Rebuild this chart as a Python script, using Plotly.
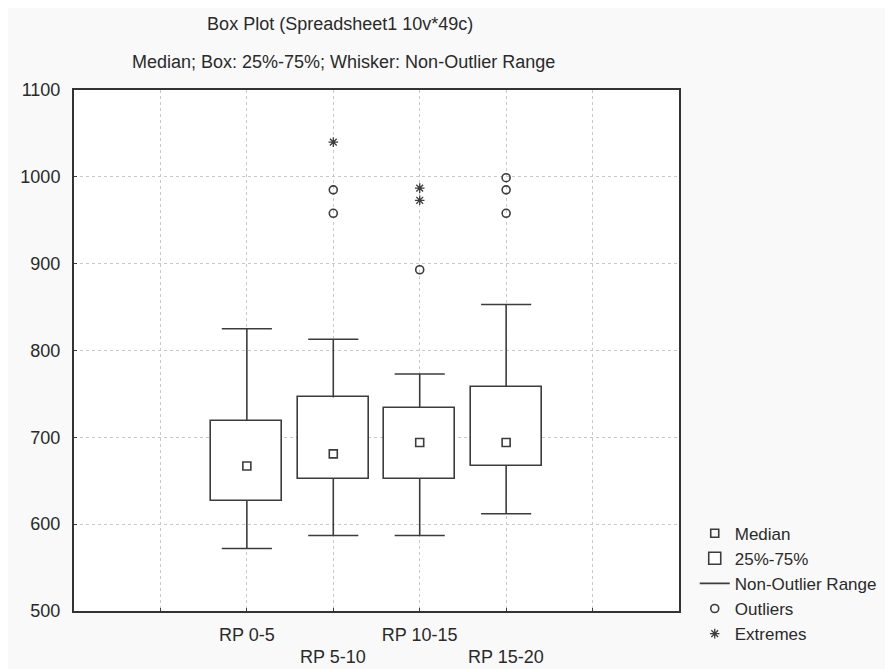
import plotly.graph_objects as go

# ---- data ----
categories = ["RP 0-5", "RP 5-10", "RP 10-15", "RP 15-20"]
medians = [667, 681, 694, 694]
q1 = [627, 652, 652, 667]
q3 = [719, 746, 734, 758]
whisk_lo = [572, 587, 587, 612]
whisk_hi = [825, 813, 773, 853]
outlier_cat = ["RP 5-10", "RP 5-10", "RP 10-15", "RP 15-20", "RP 15-20", "RP 15-20"]
outlier_val = [985, 958, 893, 999, 985, 958]
extreme_cat = ["RP 5-10", "RP 10-15", "RP 10-15"]
extreme_val = [1040, 987, 973]
y_ticks = [500, 600, 700, 800, 900, 1000, 1100]
title_text = "Box Plot (Spreadsheet1 10v*49c)"
subtitle_text = "Median; Box: 25%-75%; Whisker: Non-Outlier Range"

# ---- layout helpers ----
pos = {c: i + 2 for i, c in enumerate(categories)}   # slots 1..6 on a 0..7 axis, data in 2..5
xs = [pos[c] for c in categories]
LINE = "#3c3c3c"
TXT = "#2a2a2a"
FONT = "Liberation Sans, Arial, sans-serif"
FS = 18
BOXW = 0.82
CAP = 0.29

fig = go.Figure()

# whiskers (vertical stems outside the box + caps)
wx, wy = [], []
for x, lo, hi, a, b in zip(xs, whisk_lo, whisk_hi, q1, q3):
    wx += [x, x, None, x, x, None, x - CAP, x + CAP, None, x - CAP, x + CAP, None]
    wy += [hi, b, None, a, lo, None, hi, hi, None, lo, lo, None]
fig.add_trace(go.Scatter(x=wx, y=wy, mode="lines", line=dict(color=LINE, width=1.6),
                         name="Non-Outlier Range", legendrank=3))

# boxes 25%-75%
fig.add_trace(go.Bar(x=xs, y=[b - a for a, b in zip(q1, q3)], base=q1, width=BOXW,
                     marker=dict(color="white", line=dict(color=LINE, width=1.6)),
                     name="25%-75%", legendrank=2))

# medians
fig.add_trace(go.Scatter(x=xs, y=medians, mode="markers",
                         marker=dict(symbol="square-open", size=8, color=LINE, line=dict(width=1.6)),
                         name="Median", legendrank=1))

# outliers
fig.add_trace(go.Scatter(x=[pos[c] for c in outlier_cat], y=outlier_val, mode="markers",
                         marker=dict(symbol="circle-open", size=8, color=LINE, line=dict(width=1.6)),
                         name="Outliers", legendrank=4))

# extremes
fig.add_trace(go.Scatter(x=[pos[c] for c in extreme_cat], y=extreme_val, mode="markers",
                         marker=dict(symbol="asterisk-open", size=8, color=LINE, line=dict(width=1.3)),
                         name="Extremes", legendrank=5))

upper = [c if i % 2 == 0 else "" for i, c in enumerate(categories)]
lower = [c for i, c in enumerate(categories) if i % 2 == 1]
lower_x = [pos[c] for c in lower]

fig.update_layout(
    width=893, height=669,
    paper_bgcolor="#f9f9f9", plot_bgcolor="white",
    font=dict(family=FONT, size=FS, color=TXT),
    margin=dict(l=60, r=222, t=82, b=66),
    showlegend=True,
    legend=dict(x=1.026, y=0.183, xanchor="left", yanchor="top", bgcolor="rgba(0,0,0,0)",
                font=dict(size=17, color=TXT), tracegroupgap=0, itemwidth=30,
                traceorder="normal"),
    title=dict(text=title_text, x=0.372, xanchor="center", y=0.976, yanchor="middle",
               font=dict(family=FONT, size=FS, color=TXT)),
    xaxis=dict(range=[0, 7], tickvals=[1] + xs + [6], ticktext=[""] + upper + [""],
               showgrid=True, gridcolor="#c8c8c8", griddash="dot", gridwidth=1,
               ticks="inside", ticklen=3, tickcolor=LINE, zeroline=False,
               showline=True, linecolor="#333333", linewidth=2, mirror=True,
               tickfont=dict(size=FS, color=TXT), ticklabelstandoff=6),
    yaxis=dict(range=[500, 1100], tickvals=y_ticks,
               showgrid=True, gridcolor="#c8c8c8", griddash="dot", gridwidth=1,
               ticks="inside", ticklen=3, tickcolor=LINE, zeroline=False,
               showline=True, linecolor="#333333", linewidth=2, mirror=True,
               tickfont=dict(size=FS, color=TXT), ticklabelstandoff=8),
    bargap=0,
)

fig.add_annotation(x=0.446, y=1.054, xref="paper", yref="paper", text=subtitle_text,
                   showarrow=False, xanchor="center", yanchor="middle",
                   font=dict(size=FS, color=TXT))

for x, t in zip(lower_x, lower):
    fig.add_annotation(x=x, y=0, xref="x", yref="paper", text=t, showarrow=False,
                       yanchor="top", yshift=-34, font=dict(size=FS, color=TXT))

fig.write_html("out.html")
